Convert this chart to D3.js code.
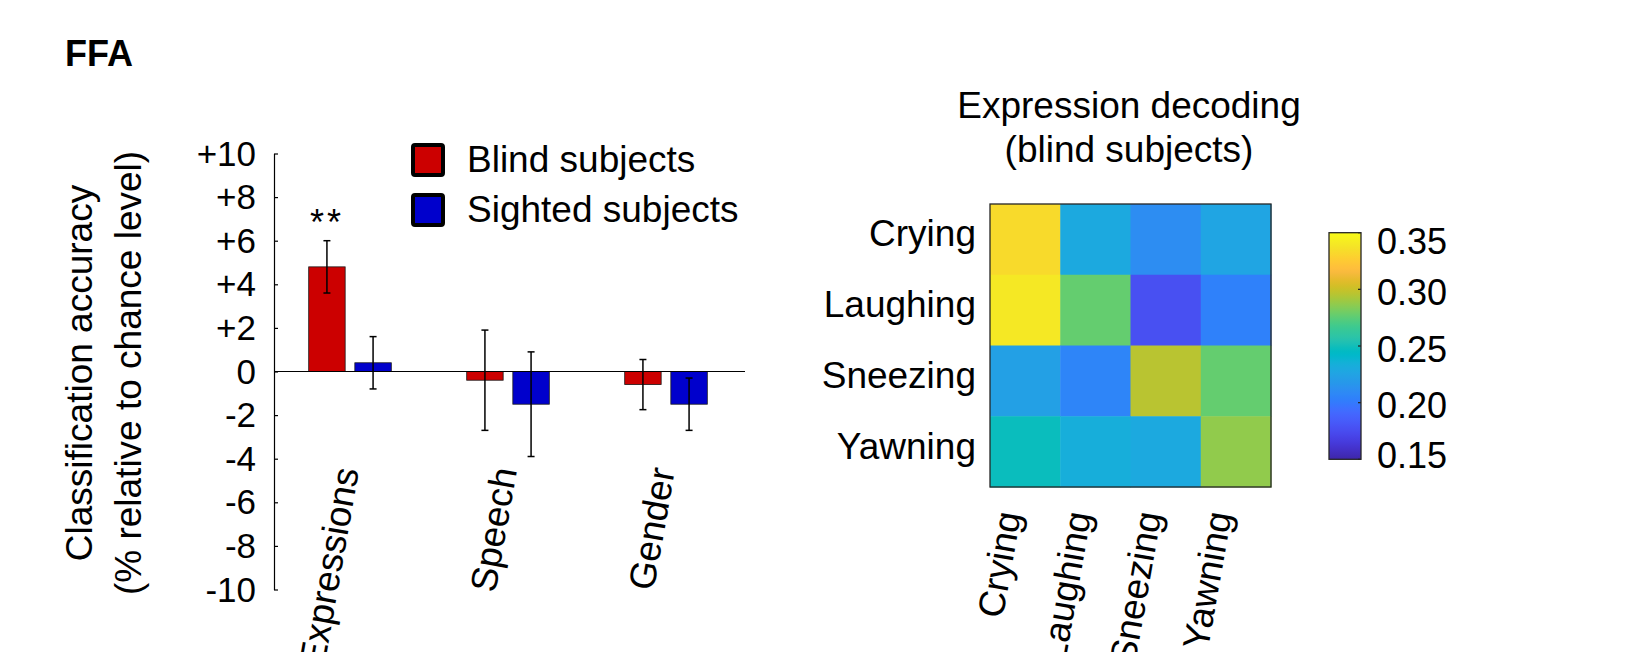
<!DOCTYPE html>
<html>
<head>
<meta charset="utf-8">
<script src="https://cdn.jsdelivr.net/npm/d3@7"></script>
<style>
  html, body { margin: 0; padding: 0; background: #ffffff; }
  svg { display: block; font-family: "Liberation Sans", Arial, Helvetica, sans-serif; }
</style>
</head>
<body>
<svg id="fig" width="1633" height="652"></svg>
<script>
// ---- Bar chart data: classification accuracy relative to chance (%) ----
const categories = ["Expressions", "Speech", "Gender"];
const groupNames = ["Blind subjects", "Sighted subjects"];
const blindMeans = [4.8, -0.4, -0.6];
const blindErrors = [1.2, 2.3, 1.15];
const sightedMeans = [0.4, -1.5, -1.5];
const sightedErrors = [1.2, 2.4, 1.2];
const significance = ["**", "", ""];
const yTickValues = [10, 8, 6, 4, 2, 0, -2, -4, -6, -8, -10];
const yTickLabels = ["+10", "+8", "+6", "+4", "+2", "0", "-2", "-4", "-6", "-8", "-10"];

// ---- Confusion matrix: expression decoding in blind subjects ----
const expressions = ["Crying", "Laughing", "Sneezing", "Yawning"];
const cryingRow   = [0.333, 0.229, 0.211, 0.226];
const laughingRow = [0.340, 0.277, 0.177, 0.204];
const sneezingRow = [0.223, 0.206, 0.296, 0.277];
const yawningRow  = [0.248, 0.233, 0.229, 0.287];
const matrixRows = [cryingRow, laughingRow, sneezingRow, yawningRow];
const colorLimits = [0.15, 0.35];
const colorbarTicks = [0.15, 0.20, 0.25, 0.30, 0.35];
const colorbarLabels = ["0.15", "0.20", "0.25", "0.30", "0.35"];

// parula colormap (64 entries)
const parula = [
  "#3E26A8","#402AB4","#422EBF","#4432CB","#4537D5","#463CDE","#4741E5","#4847EB",
  "#484DF0","#4852F4","#4758F8","#465EFB","#4563FD","#4269FE","#3E6FFF","#3875FE",
  "#327CFC","#2F81FA","#2E87F7","#2D8CF3","#2B91EF","#2797EB","#259BE8","#23A0E5",
  "#20A5E3","#1CA9DF","#18ADDB","#12B1D6","#08B5D0","#01B8CA","#02BAC3","#0BBDBC",
  "#19BFB6","#24C1AF","#2CC4A7","#31C69F","#37C897","#3FCA8E","#4ACB84","#57CC7A",
  "#64CD6F","#72CD64","#81CC59","#8FCB4E","#9DC943","#ABC739","#B9C431","#C5C22A",
  "#D1BF27","#DCBD29","#E6BB2D","#EFBA36","#F8BA3D","#FEBE3C","#FEC338","#FEC934",
  "#FCCF30","#FAD62D","#F7DC2A","#F5E327","#F5E924","#F6EF20","#F7F51B","#F9FB15"
];

const svg = d3.select("#fig");
const FONT = "\"Liberation Sans\", Arial, Helvetica, sans-serif";

// ---- Panel letter ----
svg.append("text")
  .attr("x", 65).attr("y", 65.5)
  .attr("font-size", 36).attr("font-weight", "bold")
  .text("FFA");

// ================= Bar chart =================
const axisX = 274, zeroEnd = 745;
const y = d3.scaleLinear().domain([-10, 10]).range([589.5, 153.5]);
const x = d3.scaleBand().domain(categories).range([271, 745]).paddingInner(0).paddingOuter(0);
const sub = d3.scaleBand().domain(groupNames).range([-41.3, 41.3]).paddingInner(0.21);

const barG = svg.append("g");

// y axis with inward ticks
const yAxis = d3.axisLeft(y)
  .tickValues(yTickValues)
  .tickFormat((d, i) => yTickLabels[i])
  .tickSizeInner(-4)
  .tickSizeOuter(0)
  .tickPadding(18);
const yAxisG = barG.append("g").attr("transform", `translate(${axisX},0)`).call(yAxis);
yAxisG.select(".domain").attr("stroke", "#000").attr("stroke-width", 1.2);
yAxisG.selectAll(".tick line").attr("stroke", "#000").attr("stroke-width", 1.2);
yAxisG.selectAll(".tick text")
  .attr("font-size", 35).attr("font-family", FONT).attr("fill", "#000")
  .attr("dy", "0.33em");

// y axis title
const yTitle = barG.append("text")
  .attr("transform", `translate(0,373) rotate(-90)`)
  .attr("text-anchor", "middle")
  .attr("font-size", 37);
yTitle.append("tspan").attr("x", 0).attr("y", 92).text("Classification accuracy");
yTitle.append("tspan").attr("x", 0).attr("y", 141).text("(% relative to chance level)");

// bars
const series = [
  { name: groupNames[0], means: blindMeans, errors: blindErrors, color: "#CC0000" },
  { name: groupNames[1], means: sightedMeans, errors: sightedErrors, color: "#0000CC" }
];

series.forEach(s => {
  const g = barG.append("g");
  g.selectAll("rect")
    .data(categories)
    .join("rect")
    .attr("x", (c) => x(c) + x.bandwidth() / 2 + sub(s.name))
    .attr("width", sub.bandwidth())
    .attr("y", (c, i) => y(Math.max(0, s.means[i])))
    .attr("height", (c, i) => Math.abs(y(s.means[i]) - y(0)))
    .attr("fill", s.color)
    .attr("stroke", "#1a1a1a")
    .attr("stroke-width", 0.8);
});

// zero line
barG.append("line")
  .attr("x1", axisX).attr("x2", zeroEnd)
  .attr("y1", y(0)).attr("y2", y(0))
  .attr("stroke", "#000").attr("stroke-width", 1.2);

// error bars
series.forEach(s => {
  const g = barG.append("g").attr("stroke", "#000").attr("stroke-width", 1.5);
  categories.forEach((c, i) => {
    const cx = x(c) + x.bandwidth() / 2 + sub(s.name) + sub.bandwidth() / 2;
    const top = y(s.means[i] + s.errors[i]);
    const bot = y(s.means[i] - s.errors[i]);
    g.append("line").attr("x1", cx).attr("x2", cx).attr("y1", top).attr("y2", bot);
    g.append("line").attr("x1", cx - 3.5).attr("x2", cx + 3.5).attr("y1", top).attr("y2", top);
    g.append("line").attr("x1", cx - 3.5).attr("x2", cx + 3.5).attr("y1", bot).attr("y2", bot);
  });
});

// significance stars
categories.forEach((c, i) => {
  if (!significance[i]) return;
  const cx = x(c) + x.bandwidth() / 2 + sub(groupNames[0]) + sub.bandwidth() / 2;
  barG.append("text")
    .attr("x", cx).attr("y", y(blindMeans[i] + blindErrors[i]) - 6)
    .attr("text-anchor", "middle")
    .attr("font-size", 36)
    .attr("letter-spacing", 3)
    .text(significance[i]);
});

// category labels
barG.selectAll("text.cat")
  .data(categories)
  .join("text")
  .attr("class", "cat")
  .attr("text-anchor", "end")
  .attr("font-size", 37)
  .attr("transform", c => `translate(${x(c) + x.bandwidth() / 2 + 9},470) rotate(-80)`)
  .text(c => c);

// legend
const legend = barG.append("g");
groupNames.forEach((name, i) => {
  legend.append("rect")
    .attr("x", 413).attr("y", 145 + i * 50)
    .attr("width", 30).attr("height", 30)
    .attr("rx", 2)
    .attr("fill", series[i].color)
    .attr("stroke", "#000").attr("stroke-width", 4);
  legend.append("text")
    .attr("x", 467).attr("y", 172 + i * 50)
    .attr("font-size", 37)
    .text(name);
});

// ================= Confusion matrix =================
const hx = d3.scaleBand().domain(expressions).range([990, 1271]);
const hy = d3.scaleBand().domain(expressions).range([204, 487]);
const color = d3.scaleLinear()
  .domain(parula.map((_, i) => colorLimits[0] + (colorLimits[1] - colorLimits[0]) * i / (parula.length - 1)))
  .range(parula)
  .interpolate(d3.interpolateRgb)
  .clamp(true);

const hm = svg.append("g");

// title
const hTitle = hm.append("text").attr("text-anchor", "middle").attr("font-size", 37);
hTitle.append("tspan").attr("x", 1129).attr("y", 118).text("Expression decoding");
hTitle.append("tspan").attr("x", 1129).attr("y", 161.5).text("(blind subjects)");

const cells = [];
matrixRows.forEach((row, r) => row.forEach((v, c) => cells.push({ r: expressions[r], c: expressions[c], v })));

hm.selectAll("rect.cell")
  .data(cells)
  .join("rect")
  .attr("class", "cell")
  .attr("x", d => hx(d.c))
  .attr("y", d => hy(d.r))
  .attr("width", hx.bandwidth() + 0.5)
  .attr("height", hy.bandwidth() + 0.5)
  .attr("fill", d => color(d.v));

hm.append("rect")
  .attr("x", hx.range()[0]).attr("y", hy.range()[0])
  .attr("width", hx.range()[1] - hx.range()[0])
  .attr("height", hy.range()[1] - hy.range()[0])
  .attr("fill", "none").attr("stroke", "#262626").attr("stroke-width", 1.3);

// row labels
hm.selectAll("text.row")
  .data(expressions)
  .join("text")
  .attr("class", "row")
  .attr("text-anchor", "end")
  .attr("x", hx.range()[0] - 14)
  .attr("y", d => hy(d) + hy.bandwidth() / 2 + 7)
  .attr("font-size", 37)
  .text(d => d);

// column labels
hm.selectAll("text.col")
  .data(expressions)
  .join("text")
  .attr("class", "col")
  .attr("text-anchor", "end")
  .attr("font-size", 37)
  .attr("transform", d => `translate(${hx(d) + hx.bandwidth() / 2 - 4},514) rotate(-80)`)
  .text(d => d);

// colorbar
const cbX = 1329, cbW = 32;
const cbY = d3.scaleLinear().domain(colorLimits).range([459.3, 232.7]);
const defs = svg.append("defs");
const grad = defs.append("linearGradient")
  .attr("id", "parulaGrad")
  .attr("x1", 0).attr("x2", 0).attr("y1", 1).attr("y2", 0);
grad.selectAll("stop")
  .data(parula)
  .join("stop")
  .attr("offset", (d, i) => i / (parula.length - 1))
  .attr("stop-color", d => d);

hm.append("rect")
  .attr("x", cbX).attr("y", cbY(colorLimits[1]))
  .attr("width", cbW).attr("height", cbY(colorLimits[0]) - cbY(colorLimits[1]))
  .attr("fill", "url(#parulaGrad)")
  .attr("stroke", "#262626").attr("stroke-width", 1.3);

hm.selectAll("line.cbtick")
  .data(colorbarTicks)
  .join("line")
  .attr("class", "cbtick")
  .attr("x1", cbX + cbW - 3).attr("x2", cbX + cbW)
  .attr("y1", d => cbY(d)).attr("y2", d => cbY(d))
  .attr("stroke", "#262626").attr("stroke-width", 1.3);

hm.selectAll("text.cblabel")
  .data(colorbarTicks)
  .join("text")
  .attr("class", "cblabel")
  .attr("x", cbX + cbW + 16)
  .attr("y", d => Math.max(cbY(colorLimits[1]) + 9, Math.min(cbY(colorLimits[0]) - 4, cbY(d) + 3)))
  .attr("dy", "0.35em")
  .attr("font-size", 36)
  .text((d, i) => colorbarLabels[i]);
</script>
</body>
</html>
